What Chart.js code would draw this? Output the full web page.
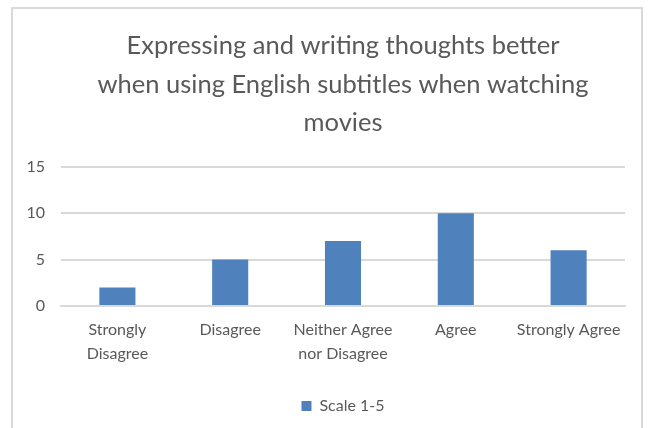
<!DOCTYPE html>
<html lang="en">
<head>
  <meta charset="UTF-8" />
  <title>Expressing and writing thoughts better</title>
  <script src="https://cdn.jsdelivr.net/npm/chart.js@4.4.8/dist/chart.umd.min.js"></script>
  <style>
    html, body { margin: 0; padding: 0; background: #fff; }
    .frame {
      position: absolute; left: 11px; top: 7px; width: 632px; height: 430px;
      border: 2px solid #d9d9d9; box-sizing: border-box;
    }
    .wrap { position: absolute; left: 0; top: 0; width: 649px; height: 428px; }
  </style>
</head>
<body>
  <div class="frame"></div>
  <div class="wrap"><canvas id="chart" width="649" height="428"></canvas></div>

  <script>
    // chart data
    const categories = [['Strongly', 'Disagree'], 'Disagree', ['Neither Agree', 'nor Disagree'], 'Agree', 'Strongly Agree'];
    const scaleValues = [2, 5, 7, 10, 6];
    const titleLines = ['Expressing and writing thoughts better', 'when using English subtitles when watching', 'movies'];

    const textColor = '#595959';
    const gridColor = '#d9d9d9';
    const barColor = '#4f81bd';

    new Chart(document.getElementById('chart'), {
      type: 'bar',
      data: {
        labels: categories,
        datasets: [{
          label: 'Scale 1-5',
          data: scaleValues,
          backgroundColor: barColor,
          barPercentage: 0.32,
          categoryPercentage: 1.0
        }]
      },
      options: {
        responsive: false,
        animation: false,
        layout: { padding: { left: 10, right: 24, top: 0, bottom: 4 } },
        plugins: {
          title: {
            display: true,
            fullSize: false, // centre over the plot area like the original
            text: titleLines,
            color: textColor,
            font: { family: 'Lato', size: 25.5, weight: 'normal', lineHeight: 1.5 },
            padding: { top: 27, bottom: 25 }
          },
          legend: {
            position: 'bottom',
            fullSize: false,
            labels: {
              color: textColor,
              font: { family: 'Lato', size: 16 },
              boxWidth: 10,
              boxHeight: 10,
              padding: 20
            }
          },
          tooltip: { enabled: false }
        },
        scales: {
          x: {
            grid: { display: false, drawTicks: false },
            border: { color: gridColor, width: 2 },
            ticks: {
              color: textColor,
              font: { family: 'Lato', size: 16, lineHeight: 1.5 },
              padding: 12,
              maxRotation: 0,
              autoSkip: false
            }
          },
          y: {
            min: 0,
            max: 15,
            afterFit: (scale) => { scale.width = 51; },
            grid: { color: gridColor, lineWidth: 2, drawTicks: false },
            border: { display: false },
            ticks: {
              stepSize: 5,
              color: textColor,
              font: { family: 'Lato', size: 16 },
              padding: 16
            }
          }
        }
      }
    });
  </script>
</body>
</html>
